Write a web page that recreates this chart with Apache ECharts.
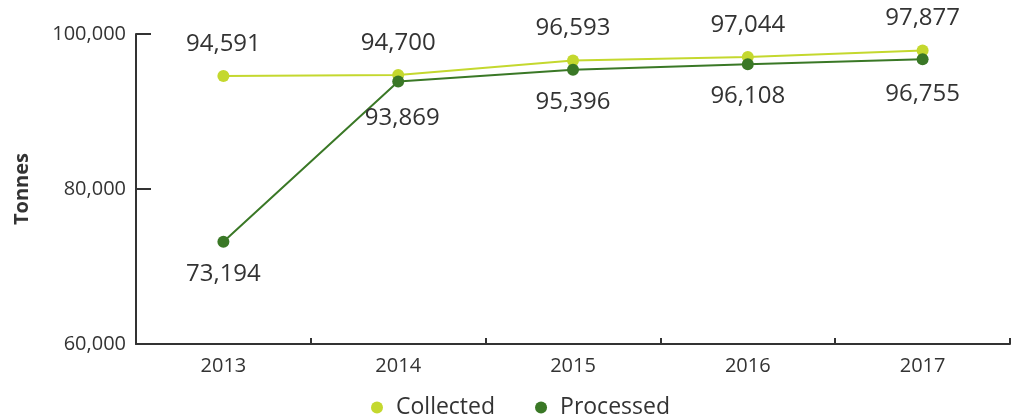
<!DOCTYPE html>
<html><head><meta charset="utf-8">
<script src="https://cdn.jsdelivr.net/npm/echarts@6/dist/echarts.min.js"></script>
<style>html,body{margin:0;padding:0;background:#fff}#c{width:1016px;height:418px}</style>
</head><body><div id="c"></div>
<script>
const years = ['2013','2014','2015','2016','2017'];
const collected = [94591, 94700, 96593, 97044, 97877];
const processed = [73194, 93869, 95396, 96108, 96755];
const yTicks = [60000, 80000, 100000];

const FONT = '"Open Sans", "Noto Sans", sans-serif';
const TXT = '#333333';
const fmt = v => v.toLocaleString('en-US');

// label nudges (style only)
const processedLabelOffsets = { 1: [4, 5], 4: [0, 3] };

const chart = echarts.init(document.getElementById('c'));
chart.setOption({
  animation: false,
  textStyle: { fontFamily: FONT },
  grid: { left: 136, right: 6, top: 34, bottom: 74, containLabel: false },
  legend: {
    bottom: -6, left: 366, itemWidth: 12, itemHeight: 12, itemGap: 40,
    icon: 'circle',
    textStyle: { fontFamily: FONT, fontSize: 23, color: TXT, padding: [0, 0, 0, 8] },
    data: ['Collected', 'Processed']
  },
  xAxis: {
    type: 'category', data: years, boundaryGap: true,
    axisLine: { lineStyle: { color: '#333', width: 2 } },
    axisTick: { show: true, inside: true, length: 6, alignWithLabel: false, lineStyle: { color: '#333', width: 2 } },
    axisLabel: { fontFamily: FONT, fontSize: 20, color: TXT, margin: 12 }
  },
  yAxis: {
    type: 'value', min: yTicks[0], max: yTicks[yTicks.length - 1], interval: 20000,
    name: 'Tonnes', nameLocation: 'middle', nameGap: 104, nameRotate: 90,
    nameTextStyle: { fontFamily: FONT, fontSize: 20, fontWeight: 'bold', color: TXT },
    axisLine: { show: true, lineStyle: { color: '#333', width: 2 } },
    axisTick: { show: true, inside: true, length: 15, lineStyle: { color: '#333', width: 2 } },
    splitLine: { show: false },
    axisLabel: { fontFamily: FONT, fontSize: 20, color: TXT, margin: 10, formatter: v => fmt(v) }
  },
  series: [
    {
      name: 'Collected', type: 'line', data: collected,
      color: '#c4d82e', symbol: 'circle', symbolSize: 12,
      lineStyle: { width: 2 },
      label: { show: true, position: 'top', distance: 14, fontFamily: FONT, fontSize: 24, color: TXT, formatter: p => fmt(p.value) }
    },
    {
      name: 'Processed', type: 'line',
      data: processed.map((v, i) => processedLabelOffsets[i] ? { value: v, label: { offset: processedLabelOffsets[i] } } : v),
      color: '#3a7826', symbol: 'circle', symbolSize: 12,
      lineStyle: { width: 2 },
      label: { show: true, position: 'bottom', distance: 14, fontFamily: FONT, fontSize: 24, color: TXT, formatter: p => fmt(p.value) }
    }
  ]
});
</script></body></html>
